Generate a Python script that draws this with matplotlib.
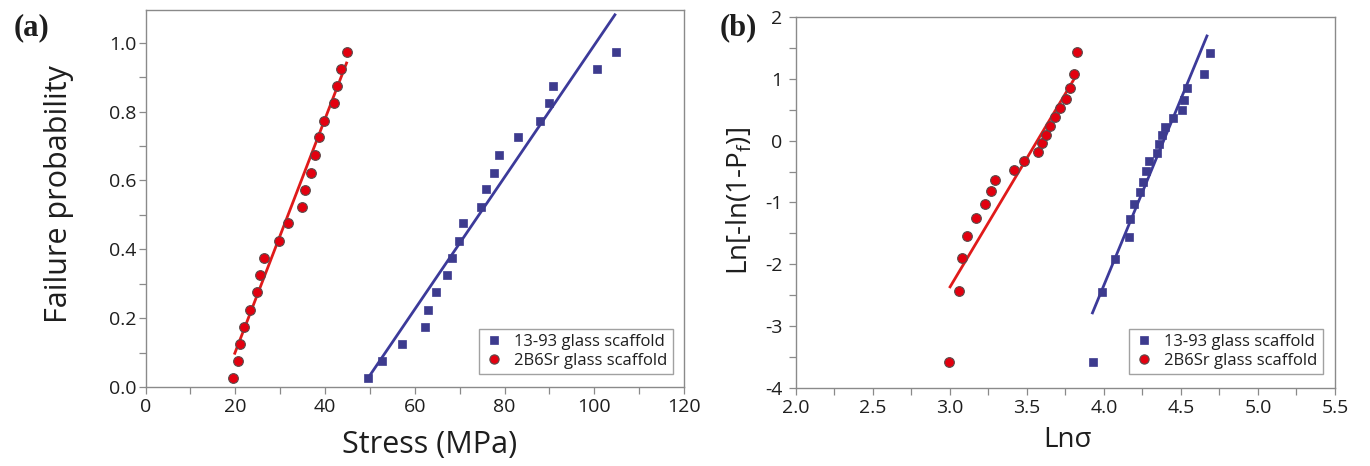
import matplotlib
matplotlib.use("Agg")
import matplotlib.pyplot as plt
from matplotlib.ticker import MultipleLocator, FormatStrFormatter
import numpy as np

plt.rcParams['font.family'] = ['Open Sans', 'DejaVu Sans']
plt.rcParams['axes.unicode_minus'] = False

# ---------------- data ----------------
# Panel (a): failure probability vs stress
a_2b6sr_stress = [19.5, 20.6, 21.1, 22.0, 23.3, 24.8, 25.6, 26.3, 29.7, 31.8,
                  34.9, 35.6, 36.8, 37.8, 38.7, 39.8, 41.9, 42.6, 43.6, 44.8]
a_2b6sr_prob = [0.025, 0.076, 0.125, 0.175, 0.224, 0.275, 0.324, 0.375, 0.424, 0.476,
                0.524, 0.572, 0.623, 0.674, 0.725, 0.774, 0.825, 0.875, 0.925, 0.974]
a_1393_stress = [49.6, 52.7, 57.1, 62.3, 62.9, 64.8, 67.2, 68.3, 69.8, 70.8,
                 74.8, 75.8, 77.7, 78.8, 82.9, 87.9, 89.9, 90.7, 100.6, 104.8]
a_1393_prob = [0.025, 0.076, 0.125, 0.175, 0.224, 0.275, 0.324, 0.375, 0.424, 0.476,
               0.524, 0.576, 0.623, 0.674, 0.725, 0.774, 0.825, 0.875, 0.925, 0.974]
a_2b6sr_fit_x = [19.9, 44.8]
a_2b6sr_fit_y = [0.098, 0.941]
a_1393_fit_x = [49.8, 104.6]
a_1393_fit_y = [0.030, 1.081]

# Panel (b): Weibull plot
b_2b6sr_lns = [2.997, 3.060, 3.082, 3.114, 3.171, 3.229, 3.268, 3.294, 3.418, 3.484,
               3.571, 3.597, 3.625, 3.653, 3.684, 3.714, 3.755, 3.781, 3.807, 3.825]
b_2b6sr_y = [-3.578, -2.434, -1.905, -1.544, -1.258, -1.026, -0.816, -0.643, -0.476, -0.325,
             -0.189, -0.044, 0.096, 0.236, 0.377, 0.523, 0.668, 0.846, 1.078, 1.434]
b_1393_lns = [3.929, 3.987, 4.069, 4.160, 4.171, 4.197, 4.236, 4.257, 4.275, 4.290,
              4.344, 4.359, 4.377, 4.394, 4.448, 4.510, 4.523, 4.539, 4.647, 4.690]
b_1393_y = [-3.587, -2.455, -1.916, -1.555, -1.269, -1.026, -0.837, -0.665, -0.492, -0.330,
            -0.196, -0.055, 0.091, 0.225, 0.361, 0.495, 0.657, 0.846, 1.073, 1.422]
b_2b6sr_fit_x = [3.002, 3.803]
b_2b6sr_fit_y = [-2.364, 0.981]
b_1393_fit_x = [3.926, 4.669]
b_1393_fit_y = [-2.785, 1.693]

series_labels = ['13-93 glass scaffold', '2B6Sr glass scaffold']

# ---------------- style ----------------
BLUE = '#3d3b8e'
BLUE_LINE = '#3c3a9a'
RED = '#e3000f'
RED_LINE = '#e01a1a'
EDGE = '#5a4a4a'
SPINE = '#8a8a8a'
TXT = '#1e1e1e'

W, H = 1370, 466
fig = plt.figure(figsize=(W / 100, H / 100), dpi=100)

def px_axes(l, r, t, b):
    return fig.add_axes([l / W, 1 - b / H, (r - l) / W, (b - t) / H])

axa = px_axes(145.5, 684, 10, 387)
axb = px_axes(795.7, 1335, 17, 388)

def style(ax, ypad):
    for s in ax.spines.values():
        s.set_color(SPINE)
        s.set_linewidth(1.0)
    ax.tick_params(which='both', direction='out', color=SPINE, width=0.9,
                   length=5, labelsize=14, labelcolor=TXT)
    ax.tick_params(axis='y', which='major', pad=ypad)
    ax.tick_params(axis='x', which='major', pad=3)
    ax.tick_params(top=False, right=False, which='both')

# Panel (a)
axa.plot(a_2b6sr_fit_x, a_2b6sr_fit_y, color=RED_LINE, lw=2.0, zorder=2)
axa.plot(a_1393_fit_x, a_1393_fit_y, color=BLUE_LINE, lw=2.0, zorder=2)
axa.plot(a_1393_stress, a_1393_prob, ls='none', marker='s', ms=5.6, mfc=BLUE,
         mec=BLUE, mew=0.5, zorder=3, label=series_labels[0])
axa.plot(a_2b6sr_stress, a_2b6sr_prob, ls='none', marker='o', ms=7.0, mfc=RED,
         mec=EDGE, mew=0.8, zorder=3, label=series_labels[1])
axa.set_xlim(0, 120)
axa.set_ylim(0, 1.095)
axa.xaxis.set_major_locator(MultipleLocator(20))
axa.xaxis.set_minor_locator(MultipleLocator(10))
axa.yaxis.set_major_locator(MultipleLocator(0.2))
axa.yaxis.set_minor_locator(MultipleLocator(0.1))
axa.yaxis.set_major_formatter(FormatStrFormatter('%.1f'))
style(axa, 1.5)

# Panel (b)
axb.plot(b_2b6sr_fit_x, b_2b6sr_fit_y, color=RED_LINE, lw=2.0, zorder=2)
axb.plot(b_1393_fit_x, b_1393_fit_y, color=BLUE_LINE, lw=2.0, zorder=2)
axb.plot(b_1393_lns, b_1393_y, ls='none', marker='s', ms=5.6, mfc=BLUE,
         mec=BLUE, mew=0.5, zorder=3, label=series_labels[0])
axb.plot(b_2b6sr_lns, b_2b6sr_y, ls='none', marker='o', ms=7.0, mfc=RED,
         mec=EDGE, mew=0.8, zorder=3, label=series_labels[1])
axb.set_xlim(2.0, 5.5)
axb.set_ylim(-4, 2)
axb.xaxis.set_major_locator(MultipleLocator(0.5))
axb.xaxis.set_minor_locator(MultipleLocator(0.25))
axb.xaxis.set_major_formatter(FormatStrFormatter('%.1f'))
axb.yaxis.set_major_locator(MultipleLocator(1))
axb.yaxis.set_minor_locator(MultipleLocator(0.5))
style(axb, 4.5)

for ax, anchor in ((axa, (0.979, 0.0345)), (axb, (0.977, 0.0377))):
    leg = ax.legend(loc='lower right', bbox_to_anchor=anchor, borderaxespad=0,
                    fancybox=False, frameon=True, fontsize=12, handletextpad=0.6,
                    handlelength=1.2, borderpad=0.3, labelspacing=0.2,
                    markerscale=0.95)
    leg.get_frame().set_edgecolor(SPINE)
    leg.get_frame().set_linewidth(1.0)
    for t in leg.get_texts():
        t.set_color(TXT)

# axis labels and panel letters
fig.text(58.5 / W, 1 - 194 / H, 'Failure probability', rotation=90, ha='center',
         va='center', fontsize=22, color=TXT)
fig.text(430 / W, 1 - 445 / H, 'Stress (MPa)', ha='center', va='center',
         fontsize=22, color=TXT)
fig.text(739 / W, 1 - 201.5 / H, r'Ln[-ln(1-P$_\mathregular{f}$)]', rotation=90,
         ha='center', va='center', fontsize=20, color=TXT)
fig.text(1067 / W, 1 - 440 / H, 'Lnσ', ha='center', va='center', fontsize=20, color=TXT)

fig.text(32 / W, 1 - 28 / H, '(a)', ha='center', va='center', fontsize=22,
         fontweight='bold', family='Liberation Serif', color=TXT)
fig.text(738 / W, 1 - 28 / H, '(b)', ha='center', va='center', fontsize=22,
         fontweight='bold', family='Liberation Serif', color=TXT)

fig.savefig('out.png', dpi=100)
